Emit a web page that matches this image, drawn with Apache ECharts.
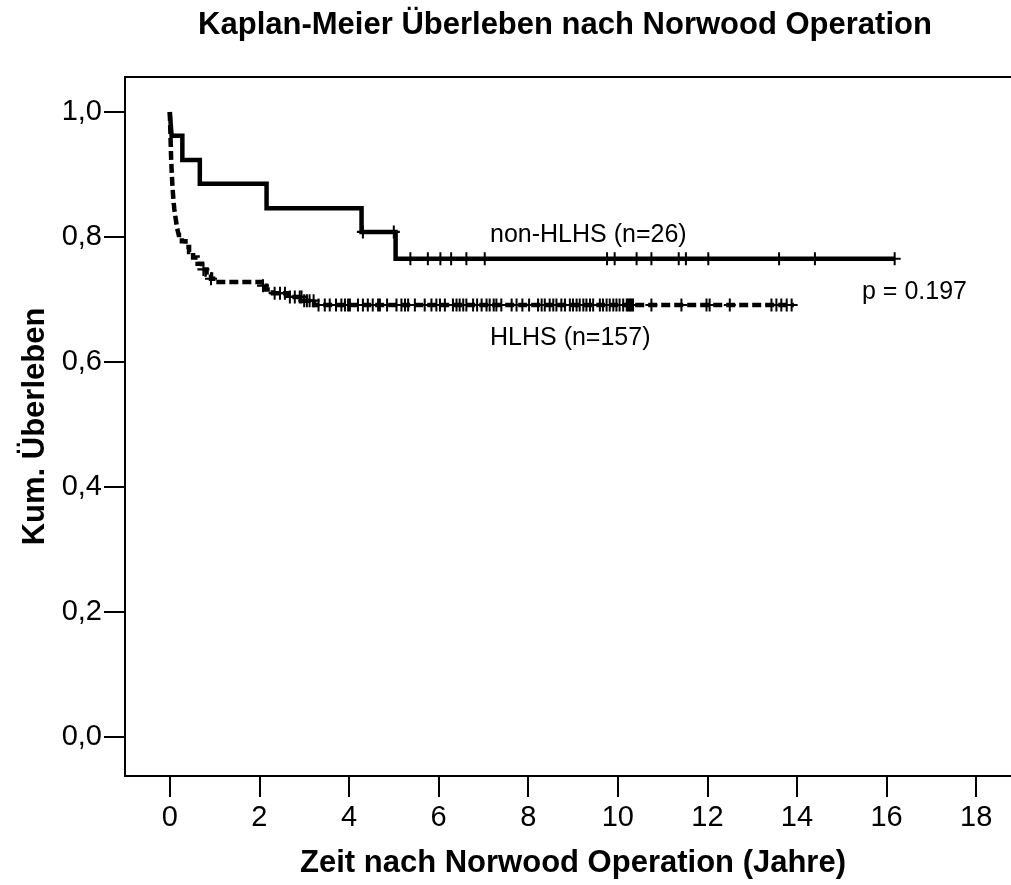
<!DOCTYPE html>
<html>
<head>
<meta charset="utf-8">
<script src="https://cdn.jsdelivr.net/npm/echarts@6/dist/echarts.min.js"></script>
<style>
html,body{margin:0;padding:0;background:#fff;}
#chart{width:1011px;height:885px;}
</style>
</head>
<body>
<div id="chart"></div>
<script>
// ---- Data ----
const nonHlhsTime = [0, 0.04, 0.28, 0.67, 2.16, 4.28, 5.04, 16.18];
const nonHlhsSurv = [1.0, 0.962, 0.923, 0.885, 0.846, 0.808, 0.765, 0.765];
const nonHlhsCensor = [4.31, 5.0, 5.37, 5.76, 6.04, 6.28, 6.62, 7.03, 9.76, 9.93, 10.42, 10.75, 11.36, 11.52, 12.02, 13.6, 14.4, 16.18];

const hlhsTime = [0, 0.01, 0.02, 0.03, 0.045, 0.06, 0.08, 0.1, 0.13, 0.16, 0.2, 0.27, 0.35, 0.43, 0.52, 0.62, 0.72, 0.82, 0.92, 1.02, 2.05, 2.15, 2.3, 2.65, 2.95, 3.22, 13.93];
const hlhsSurv = [1.0, 0.975, 0.95, 0.925, 0.90, 0.88, 0.86, 0.845, 0.83, 0.815, 0.803, 0.793, 0.784, 0.776, 0.767, 0.757, 0.748, 0.74, 0.733, 0.728, 0.722, 0.716, 0.71, 0.704, 0.698, 0.691, 0.691];
const hlhsCensor = [0.75, 0.92, 2.08, 2.34, 2.46, 2.57, 2.68, 2.79, 2.9, 2.94, 3.0, 3.06, 3.12, 3.21, 3.32, 3.46, 3.57, 3.71, 3.83, 3.91, 3.98, 4.02, 4.2, 4.31, 4.42, 4.53, 4.65, 4.69, 4.85, 5.06, 5.17, 5.25, 5.32, 5.47, 5.69, 5.84, 5.95, 6.03, 6.14, 6.32, 6.4, 6.47, 6.55, 6.62, 6.77, 6.86, 6.96, 7.07, 7.14, 7.23, 7.29, 7.4, 7.63, 7.74, 7.87, 8.02, 8.22, 8.3, 8.37, 8.48, 8.56, 8.63, 8.74, 8.82, 8.93, 9.0, 9.08, 9.15, 9.23, 9.3, 9.38, 9.45, 9.6, 9.67, 9.75, 9.82, 9.9, 9.97, 10.04, 10.12, 10.2, 10.23, 10.27, 10.3, 10.34, 10.75, 11.42, 11.98, 12.05, 12.5, 13.43, 13.54, 13.65, 13.77, 13.88];

const xTicks = [0, 2, 4, 6, 8, 10, 12, 14, 16, 18];
const yTicks = [0, 0.2, 0.4, 0.6, 0.8, 1.0];
const yTickLabels = ['0,0', '0,2', '0,4', '0,6', '0,8', '1,0'];

const titleText = 'Kaplan-Meier Überleben nach Norwood Operation';
const xName = 'Zeit nach Norwood Operation (Jahre)';
const yName = 'Kum. Überleben';
const labelNon = 'non-HLHS (n=26)';
const labelHlhs = 'HLHS (n=157)';
const labelP = 'p = 0.197';

// ---- helpers ----
function pairs(ts, vs) { return ts.map((t, i) => [t, vs[i]]); }
function survAt(ts, vs, t) {
  let v = vs[0];
  for (let i = 0; i < ts.length; i++) { if (ts[i] <= t) v = vs[i]; }
  return v;
}
const plusPath = 'path://M5,0h2v12h-2z M0,5h12v2h-12z';
const FONT = '"Liberation Sans", Arial, sans-serif';

const chart = echarts.init(document.getElementById('chart'), null, {renderer: 'canvas'});
chart.setOption({
  animation: false,
  backgroundColor: '#fff',
  grid: {left: 125, top: 77, right: -10, bottom: 109, show: true, borderColor: '#000', borderWidth: 2,
         containLabel: false, outerBoundsMode: 'none'},
  xAxis: {
    type: 'value', min: -1, max: 19,
    name: xName, nameLocation: 'middle', nameGap: 72,
    nameTextStyle: {fontFamily: FONT, fontSize: 31, fontWeight: 'bold', color: '#000'},
    axisLine: {show: true, onZero: false, lineStyle: {color: '#000', width: 2}},
    axisTick: {show: true, inside: false, length: 21, lineStyle: {color: '#000', width: 2}, customValues: xTicks},
    axisLabel: {show: true, margin: 27, fontFamily: FONT, fontSize: 29, color: '#000', customValues: xTicks},
    splitLine: {show: false}
  },
  yAxis: {
    type: 'value', min: -0.063, max: 1.056,
    name: yName, nameLocation: 'middle', nameGap: 74, nameRotate: 90,
    nameTextStyle: {fontFamily: FONT, fontSize: 31, fontWeight: 'bold', color: '#000'},
    axisLine: {show: true, onZero: false, lineStyle: {color: '#000', width: 2}},
    axisTick: {show: true, inside: false, length: 21, lineStyle: {color: '#000', width: 2}, customValues: yTicks},
    axisLabel: {show: true, margin: 23, fontFamily: FONT, fontSize: 29, color: '#000', customValues: yTicks,
      formatter: function (v) {
        const i = yTicks.findIndex(t => Math.abs(t - v) < 1e-6);
        return i >= 0 ? yTickLabels[i] : '';
      }},
    splitLine: {show: false}
  },
  graphic: [
    {type: 'text', x: 565, y: 25, style: {text: titleText, fill: '#000', font: 'bold 31px ' + FONT, textAlign: 'center', textVerticalAlign: 'middle'}, silent: true},
    {type: 'text', x: 490, y: 235, style: {text: labelNon, fill: '#000', font: '25px ' + FONT, textAlign: 'left', textVerticalAlign: 'middle'}},
    {type: 'text', x: 490, y: 338, style: {text: labelHlhs, fill: '#000', font: '25px ' + FONT, textAlign: 'left', textVerticalAlign: 'middle'}},
    {type: 'text', x: 862, y: 292, style: {text: labelP, fill: '#000', font: '25px ' + FONT, textAlign: 'left', textVerticalAlign: 'middle'}}
  ],
  series: [
    {
      name: 'non-HLHS', type: 'line', step: 'end', showSymbol: false, symbol: 'none',
      data: pairs(nonHlhsTime, nonHlhsSurv),
      lineStyle: {color: '#000', width: 4.5, cap: 'butt', join: 'miter'}, z: 3
    },
    {
      name: 'HLHS', type: 'line', step: 'end', showSymbol: false, symbol: 'none',
      data: pairs(hlhsTime, hlhsSurv),
      lineStyle: {color: '#000', width: 4.5, type: [9, 4], cap: 'butt', join: 'miter'}, z: 3
    },
    {
      name: 'non-HLHS censored', type: 'scatter', symbol: plusPath, symbolSize: [12, 13],
      data: nonHlhsCensor.map(t => [t, survAt(nonHlhsTime, nonHlhsSurv, t)]),
      itemStyle: {color: '#000', opacity: 1}, z: 4, silent: true
    },
    {
      name: 'HLHS censored', type: 'scatter', symbol: plusPath, symbolSize: [12, 13],
      data: hlhsCensor.map(t => [t, survAt(hlhsTime, hlhsSurv, t)]),
      itemStyle: {color: '#000', opacity: 1}, z: 4, silent: true
    }
  ]
});
</script>
</body>
</html>
